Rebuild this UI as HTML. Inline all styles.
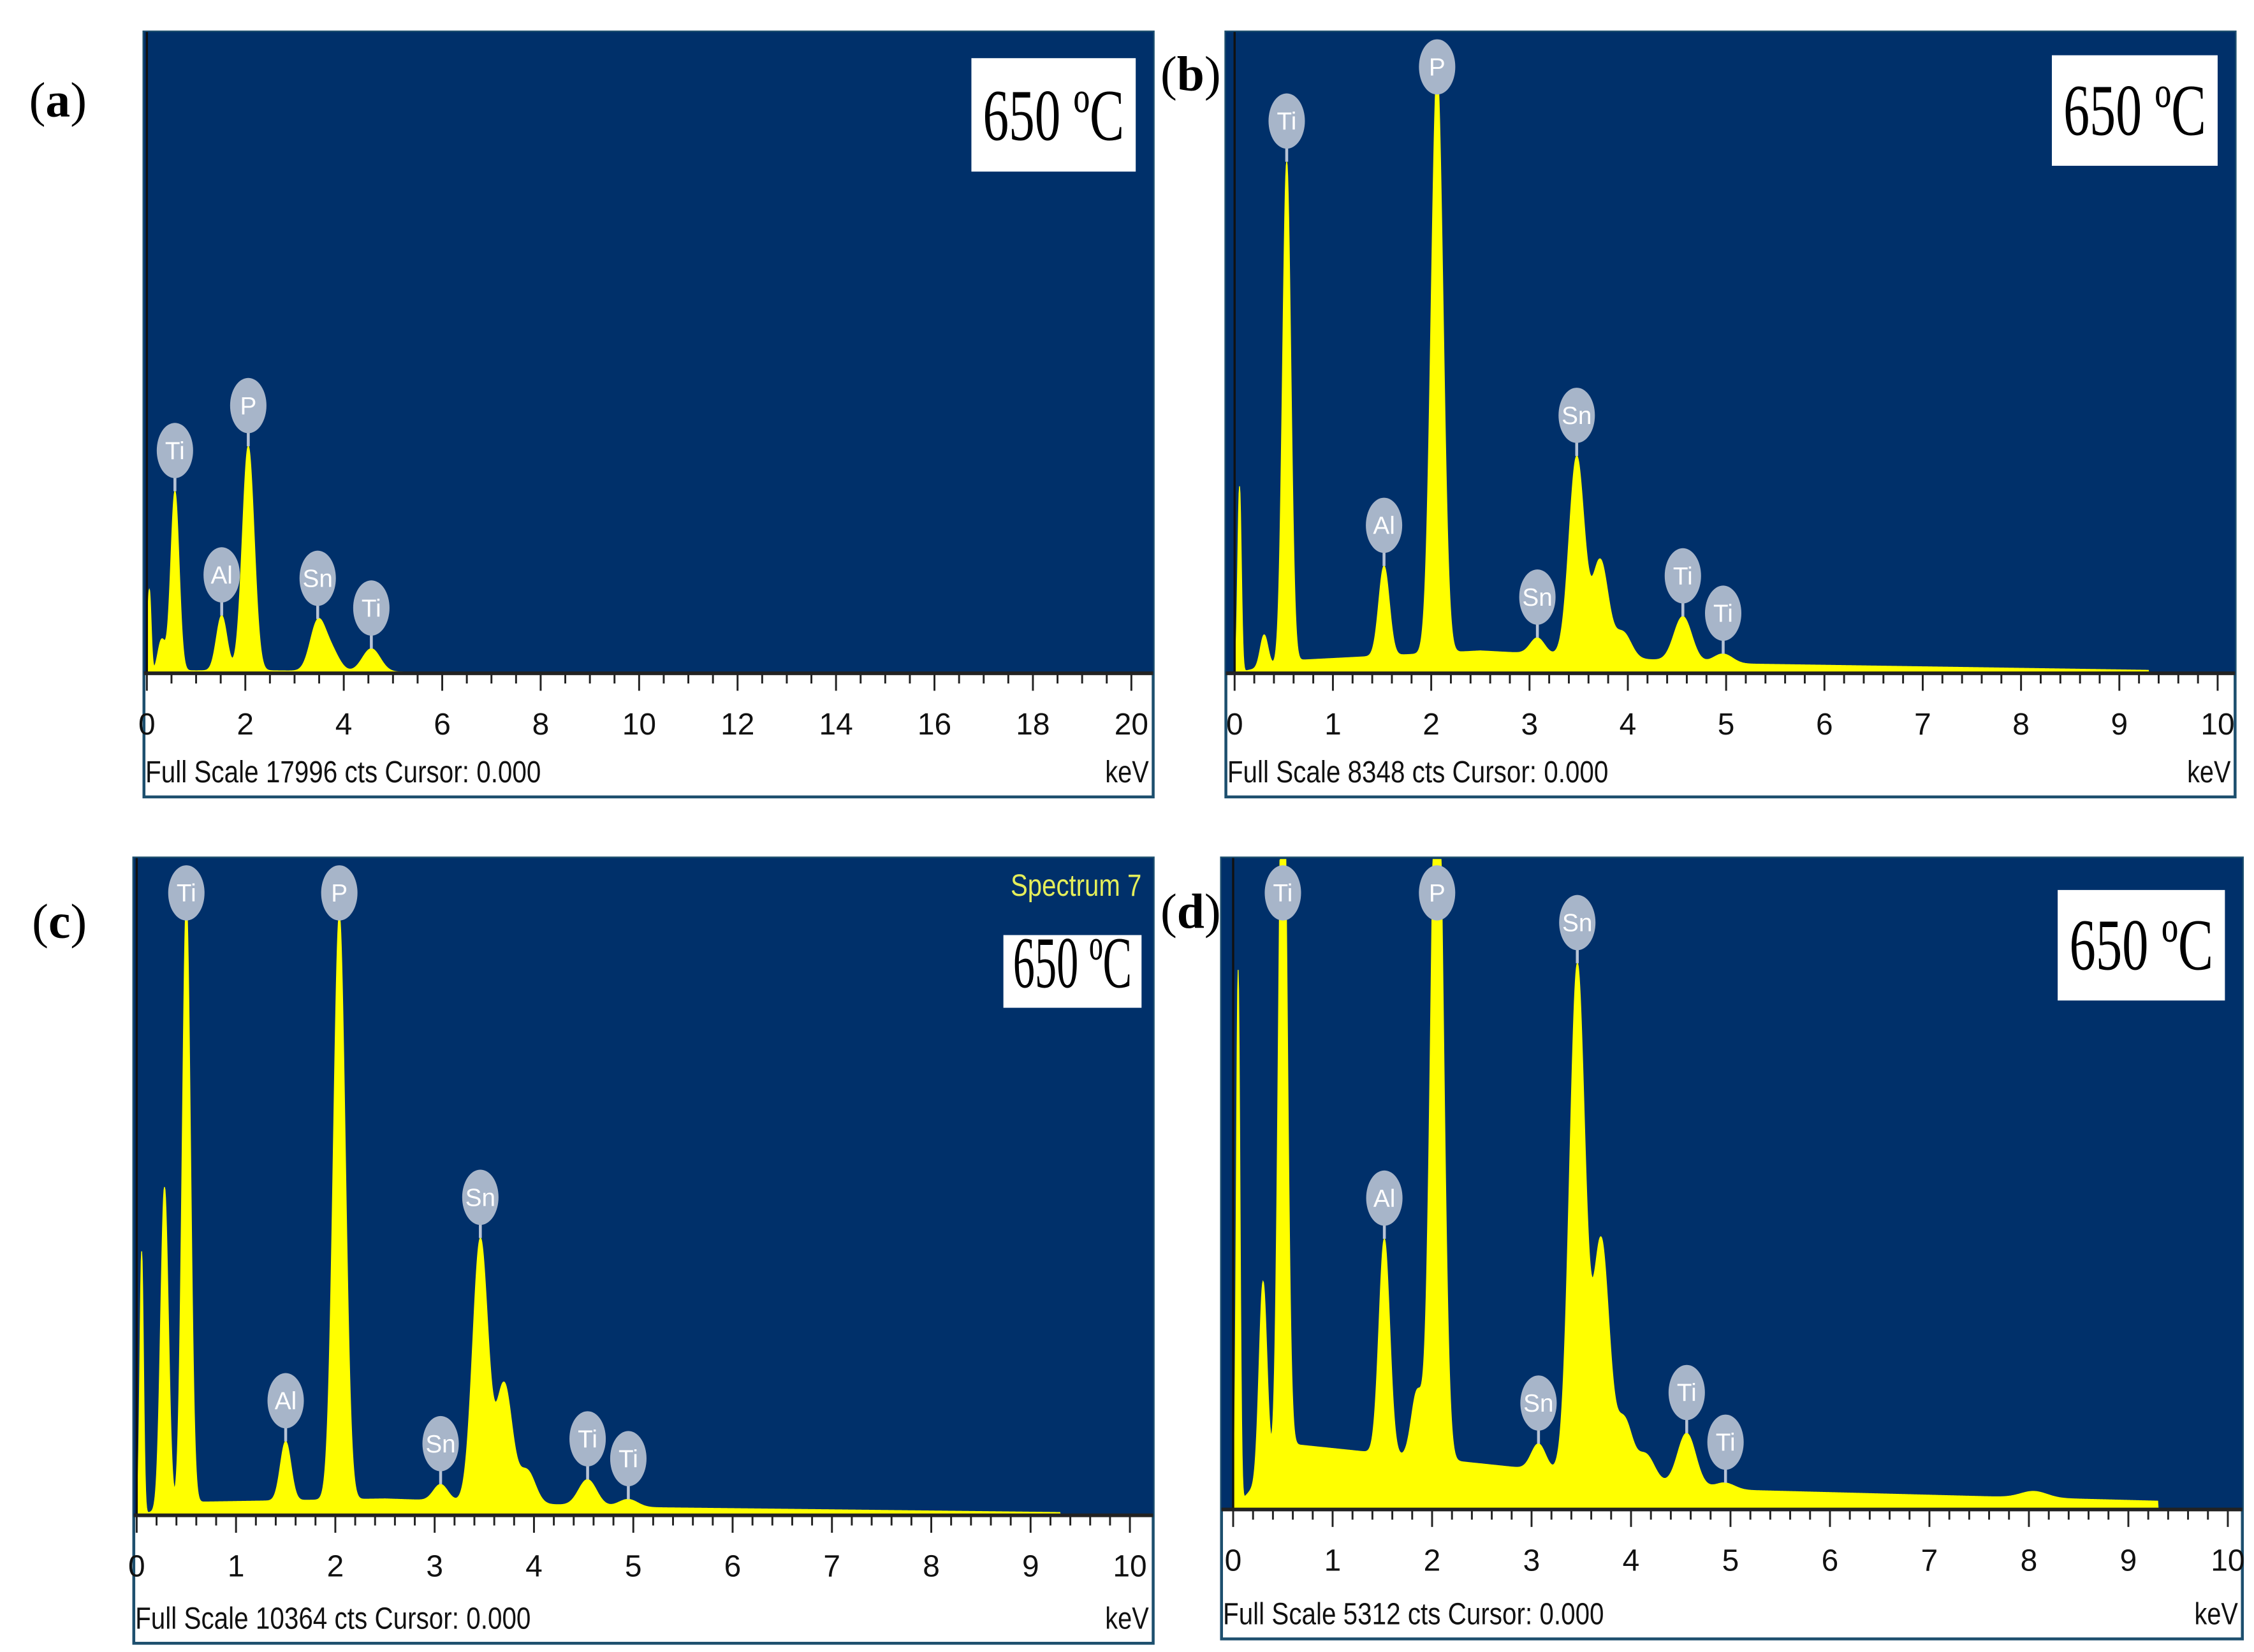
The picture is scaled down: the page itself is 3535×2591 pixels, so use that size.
<!DOCTYPE html>
<html><head><meta charset="utf-8">
<style>
html,body{margin:0;padding:0;background:#fff;}
svg{display:block;}
.tk{font-family:"Liberation Sans",sans-serif;font-size:21px;fill:#111;}
.fs{font-family:"Liberation Sans",sans-serif;font-size:21px;fill:#111;}
.pl{font-family:"Liberation Serif",serif;font-size:34px;fill:#000;}
.tb{font-family:"Liberation Serif",serif;font-size:50px;fill:#000;}
.bl{font-family:"Liberation Sans",sans-serif;font-size:17px;fill:#fff;}
</style></head>
<body>
<svg id="fig" width="3535" height="2591" viewBox="0 0 1550 1136" preserveAspectRatio="none" xmlns="http://www.w3.org/2000/svg"></svg>
<script>
// ---- data (peak energies in keV, heights as fraction of full scale) ----
const energiesA = [0.05, 0.30, 0.57, 1.52, 2.06, 3.47, 3.75, 4.56];
const heightsA  = [0.13, 0.05, 0.28, 0.086, 0.35, 0.075, 0.03, 0.036];
const energiesB = [0.05, 0.30, 0.53, 1.52, 2.06, 3.08, 3.48, 3.72, 3.95, 4.56, 4.97];
const heightsB  = [0.29, 0.05, 0.78, 0.14, 0.91, 0.025, 0.31, 0.15, 0.04, 0.07, 0.015];
const energiesC = [0.05, 0.28, 0.50, 1.50, 2.04, 3.06, 3.46, 3.70, 3.93, 4.54, 4.95];
const heightsC  = [0.40, 0.49, 0.92, 0.09, 0.89, 0.025, 0.40, 0.18, 0.05, 0.04, 0.012];
const energiesD = [0.05, 0.30, 0.50, 1.52, 1.85, 2.05, 3.07, 3.46, 3.70, 3.93, 4.15, 4.56, 4.95, 8.05];
const heightsD  = [0.82, 0.30, 1.20, 0.33, 0.10, 1.20, 0.04, 0.78, 0.36, 0.09, 0.04, 0.08, 0.01, 0.01];
const bgA = [0.004, 0.004, 0.002, 0.0];      // background at 0.6, 2.5, 5, 10 keV
const bgB = [0.02, 0.035, 0.015, 0.003];
const bgC = [0.02, 0.025, 0.012, 0.003];
const bgD = [0.10, 0.07, 0.03, 0.01];
const bgKeV = [0.6, 2.5, 5, 10];
const labelsA = ["Ti","Al","P","Sn","Ti"], labelKeVA = [0.57,1.52,2.06,3.47,4.56];
const labelsB = ["Ti","Al","P","Sn","Sn","Ti","Ti"], labelKeVB = [0.53,1.52,2.06,3.08,3.48,4.56,4.97];
const labelsC = labelsB, labelKeVC = [0.50,1.50,2.04,3.06,3.46,4.54,4.95];
const labelsD = labelsB, labelKeVD = [0.50,1.52,2.05,3.07,3.46,4.56,4.95];
const ticksA = [0,2,4,6,8,10,12,14,16,18,20];
const ticks10 = [0,1,2,3,4,5,6,7,8,9,10];
const fullScale = ["17996","8348","10364","5312"];

const NS="http://www.w3.org/2000/svg";
const svg=document.getElementById('fig');
function mk(tag,attrs,parent){const e=document.createElementNS(NS,tag);for(const k in attrs)e.setAttribute(k,attrs[k]);(parent||svg).appendChild(e);return e;}

const panels=[
 {id:'a',L:99,R:793,T:22,A:463,B:548,x0:101,x1:778,kmax:20,minor:0.5,sw:2,E:energiesA,H:heightsA,bg:bgA,lab:labelsA,lk:labelKeVA,ticks:ticksA,box:[668,40,113,78],pl:[20,80],fsLen:272,spec:false},
 {id:'b',L:843,R:1537,T:22,A:463,B:548,x0:849,x1:1525,kmax:10,minor:0.2,sw:1,E:energiesB,H:heightsB,bg:bgB,lab:labelsB,lk:labelKeVB,ticks:ticks10,box:[1411,38,114,76],pl:[798,62],fsLen:262,spec:false},
 {id:'c',L:92,R:793,T:590,A:1042,B:1130,x0:94,x1:777,kmax:10,minor:0.2,sw:1,E:energiesC,H:heightsC,bg:bgC,lab:labelsC,lk:labelKeVC,ticks:ticks10,box:[690,643,95,50],pl:[22,645],fsLen:272,spec:true},
 {id:'d',L:840,R:1542,T:590,A:1038,B:1127,x0:848,x1:1532,kmax:10,minor:0.2,sw:1,E:energiesD,H:heightsD,bg:bgD,lab:labelsD,lk:labelKeVD,ticks:ticks10,box:[1415,612,115,76],pl:[798,638],fsLen:262,spec:false}
];
fullScale.forEach((f,i)=>panels[i].fs=f);

function bgAt(bg,k){
 if(k<bgKeV[0]) return bg[0]*k/bgKeV[0];
 for(let i=1;i<bgKeV.length;i++){ if(k<=bgKeV[i]){const t=(k-bgKeV[i-1])/(bgKeV[i]-bgKeV[i-1]);return bg[i-1]+(bg[i]-bg[i-1])*t;} }
 return bg[bg.length-1];
}
function spec(p,k){
 let s=bgAt(p.bg,k);
 for(let i=0;i<p.E.length;i++){
  const sig = p.sw*(p.E[i]<0.1?0.018:(0.035+0.012*p.E[i]));
  s+=p.H[i]*Math.exp(-0.5*Math.pow((k-p.E[i])/sig,2));
 }
 return s;
}

panels.forEach(p=>{
 const g=mk('g',{});
 
 
 const xs=k=>p.x0+(p.x1-p.x0)*k/p.kmax;
 const ph=p.A-p.T;
 const ys=v=>Math.max(p.T+1,p.A-ph*v);
 const frame=mk('rect',{x:p.L,y:p.T,width:p.R-p.L,height:p.B-p.T,fill:'#fff',stroke:'#1d4f6e','stroke-width':2},g);
 
 
 const plot=mk('rect',{x:p.L,y:p.T,width:p.R-p.L,height:p.A-p.T,fill:'#00306a'},g);
 
 
 let d='M'+xs(0)+','+p.A;
 const maxk=p.kmax===20?5.2:9.3;
 for(let k=0;k<=maxk;k+=0.005){ d+=' L'+xs(k).toFixed(2)+','+ys(spec(p,k)).toFixed(2); }
 d+=' L'+xs(maxk)+','+p.A+' Z';
 const sp=mk('path',{d:d,fill:'#ffff00',stroke:'#ffff00','stroke-width':0.6},g);
 
 
 mk('line',{x1:xs(0),y1:p.T,x2:xs(0),y2:p.A,stroke:'#111','stroke-width':1.5},g);
 const ax=mk('line',{x1:p.L,y1:p.A,x2:p.R,y2:p.A,stroke:'#222','stroke-width':2.5},g);
 
 
 for(let k=0;k<=p.kmax+1e-6;k+=p.minor){
  const isMaj=Math.abs(k-Math.round(k))<1e-6 && (p.kmax===10 || Math.round(k)%2===0);
  mk('line',{x1:xs(k),y1:p.A,x2:xs(k),y2:p.A+(isMaj?12:7),stroke:'#222','stroke-width':1.3},g);
 }
 p.ticks.forEach(t=>{
  const tl=mk('text',{x:xs(t),y:p.A+42,'text-anchor':'middle',class:'tk'}, g);
  tl.textContent=t;
  
  
 });
 const fs=mk('text',{x:p.L+1,y:p.B-10,class:'fs',textLength:p.fsLen,lengthAdjust:'spacingAndGlyphs'},g);
 fs.textContent='Full Scale '+p.fs+' cts Cursor: 0.000';
 
 
 const kv=mk('text',{x:p.R-3,y:p.B-10,'text-anchor':'end',class:'fs',textLength:30,lengthAdjust:'spacingAndGlyphs'},g);
 kv.textContent='keV';
 
 
 p.lab.forEach((lb,i)=>{
  const k=p.lk[i];
  const top=ys(spec(p,k));
  const cy=Math.max(p.T+24, top-28);
  const bg=mk('g',{},g);
  
  
  mk('line',{x1:xs(k),y1:cy+17,x2:xs(k),y2:Math.max(top,cy+17),stroke:'#b8c4d6','stroke-width':2},bg);
  mk('ellipse',{cx:xs(k),cy:cy,rx:12.5,ry:19,fill:'#a7b5c9'},bg);
  const t=mk('text',{x:xs(k),y:cy+6,'text-anchor':'middle',class:'bl'},bg);
  t.textContent=lb;
 });
 const [bx,by,bw,bh]=p.box;
 const tb=mk('rect',{x:bx,y:by,width:bw,height:bh,fill:'#fff'},g);
 
 
 const tt=mk('text',{x:bx+bw/2,y:by+bh*0.72,'text-anchor':'middle',class:'tb',textLength:bw*0.86,lengthAdjust:'spacingAndGlyphs','font-size':bh*0.62},g);
 tt.textContent='650 ºC';
 
 
 if(p.spec){
  const s=mk('text',{x:p.R-8,y:p.T+26,'text-anchor':'end',class:'fs',textLength:90,lengthAdjust:'spacingAndGlyphs'},g);
  s.setAttribute('style','fill:#e4ee5a');
  s.textContent='Spectrum 7';
  
  
 }
 const pl=mk('text',{x:p.pl[0],y:p.pl[1],class:'pl'});
 pl.innerHTML='(<tspan font-weight="bold">'+p.id+'</tspan>)';
 
 
});
</script>
</body></html>
